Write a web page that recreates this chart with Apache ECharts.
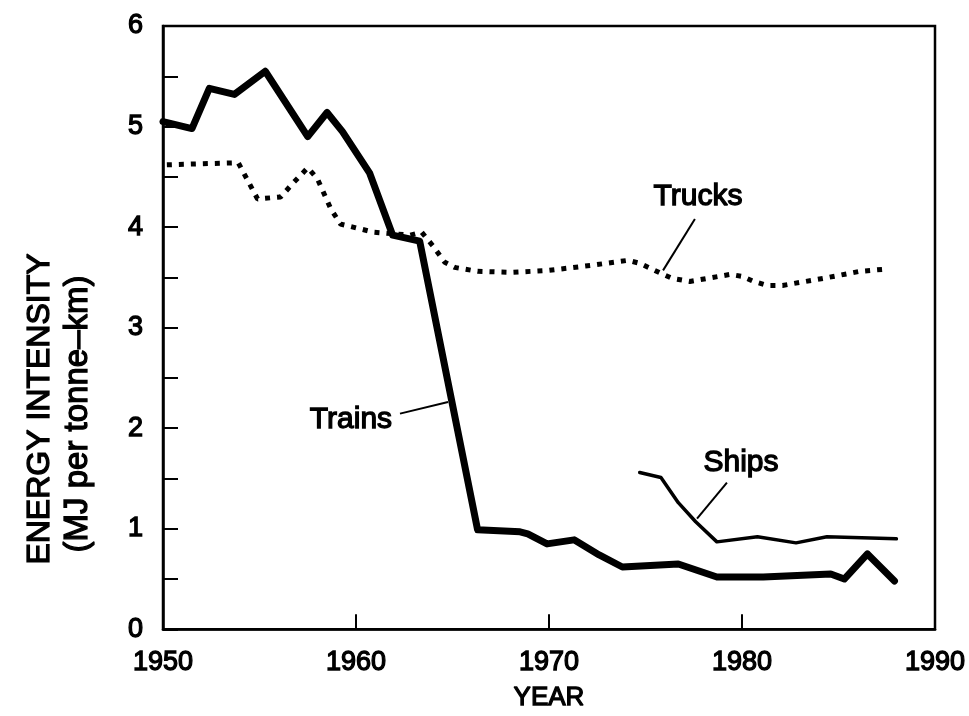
<!DOCTYPE html>
<html>
<head>
<meta charset="utf-8">
<script src="https://cdn.jsdelivr.net/npm/echarts@6/dist/echarts.min.js"></script>
<style>html,body{margin:0;padding:0;background:#fff;}#chart{width:969px;height:716px;}</style>
</head>
<body>
<div id="chart"></div>
<script>
// ---- data ----
const trainsYears  = [1950.0,1951.5,1952.4,1953.7,1955.3,1957.5,1958.5,1959.3,1960.7,1961.9,1963.3,1966.3,1968.5,1968.9,1969.9,1971.3,1972.6,1973.8,1976.7,1978.7,1981.1,1984.6,1985.3,1986.5,1987.9];
const trainsValues = [5.05,4.98,5.38,5.32,5.55,4.90,5.14,4.95,4.54,3.92,3.86,0.99,0.97,0.95,0.85,0.89,0.74,0.62,0.65,0.52,0.52,0.55,0.50,0.75,0.48];

const trucksYears  = [1950.2,1953.9,1954.9,1956.1,1956.7,1957.5,1958.0,1958.7,1959.2,1960.9,1962.8,1963.4,1964.0,1964.6,1965.1,1966.3,1968.1,1970.0,1972.2,1974.1,1974.7,1975.8,1976.4,1977.3,1979.4,1980.0,1980.6,1981.3,1982.1,1984.2,1986.1,1987.3];
const trucksValues = [4.62,4.64,4.28,4.30,4.43,4.59,4.48,4.18,4.03,3.95,3.92,3.95,3.81,3.65,3.60,3.56,3.55,3.57,3.62,3.67,3.64,3.54,3.49,3.46,3.53,3.51,3.46,3.42,3.42,3.49,3.56,3.58];

const shipsYears   = [1974.7,1975.8,1976.7,1977.6,1978.7,1980.8,1982.8,1984.4,1988.0];
const shipsValues  = [1.56,1.51,1.26,1.07,0.87,0.92,0.86,0.92,0.90];

const xTicks = [1950,1960,1970,1980,1990];
const yTicks = [0,1,2,3,4,5,6];

// annotation labels and their pointer lines (data coordinates)
const labelTrucks = {text:'Trucks', at:[1977.72,4.30], from:[1977.56,4.08], to:[1975.91,3.57]};
const labelTrains = {text:'Trains', at:[1959.74,2.085], from:[1962.28,2.145], to:[1964.77,2.26]};
const labelShips  = {text:'Ships',  at:[1979.95,1.66], from:[1979.22,1.46], to:[1977.67,1.10]};

const yTitle1 = 'ENERGY INTENSITY';
const yTitle2 = '(MJ per tonne\u2013km)';
const xTitle  = 'YEAR';

// ---- chart ----
const FONT = "'Liberation Sans', Arial, Helvetica, sans-serif";
const INK = 1.3; // stroke added to glyphs to mimic the heavy scanned type
const zip = (xs, ys) => xs.map((x, i) => [x, ys[i]]);

function annot(a) {
  return {
    markLine: {
      silent: true, symbol: ['none','none'], animation: false,
      lineStyle: {color:'#000', width: 2, type: 'solid'},
      label: {show: false},
      data: [[{coord: a.from}, {coord: a.to}]]
    },
    markPoint: {
      silent: true, animation: false,
      symbol: 'rect', symbolSize: 1,
      itemStyle: {color: 'rgba(0,0,0,0)'},
      label: {show: true, position: 'inside', color: '#000', fontFamily: FONT, fontSize: 30,
        textBorderColor: '#000', textBorderWidth: INK, formatter: a.text},
      data: [{coord: a.at, value: a.text}]
    }
  };
}

const chart = echarts.init(document.getElementById('chart'), null, {renderer: 'canvas'});
chart.setOption({
  animation: false,
  backgroundColor: '#fff',
  grid: {left: 163, right: 34, top: 26, bottom: 83, show: true, borderColor: '#000', borderWidth: 2.5, backgroundColor: 'transparent'},
  xAxis: {
    type: 'value', min: xTicks[0], max: xTicks[xTicks.length-1], interval: 10,
    name: xTitle, nameLocation: 'middle', nameGap: 55,
    nameTextStyle: {fontFamily: FONT, fontSize: 26, color: '#000', textBorderColor: '#000', textBorderWidth: INK},
    axisLine: {show: true, lineStyle: {color: '#000', width: 2.5}},
    axisTick: {show: true, inside: true, length: 15, lineStyle: {color: '#000', width: 2}},
    axisLabel: {margin: 20, fontFamily: FONT, fontSize: 27, color: '#000', textBorderColor: '#000', textBorderWidth: INK,
      formatter: v => xTicks.includes(v) ? String(v) : ''},
    splitLine: {show: false}
  },
  yAxis: {
    type: 'value', min: yTicks[0], max: yTicks[yTicks.length-1], interval: 0.5,
    axisLine: {show: true, lineStyle: {color: '#000', width: 2.5}},
    axisTick: {show: true, inside: true, length: 15, lineStyle: {color: '#000', width: 2}},
    axisLabel: {margin: 20, fontFamily: FONT, fontSize: 27, color: '#000', textBorderColor: '#000', textBorderWidth: INK,
      formatter: v => yTicks.includes(v) ? String(v) : ''},
    splitLine: {show: false}
  },
  graphic: [
    {type: 'text', x: 40, y: 409, rotation: Math.PI/2, silent: true,
     style: {text: yTitle1, x: 0, y: 0, align: 'center', verticalAlign: 'middle', font: "32px " + FONT, fill: '#000', stroke: '#000', lineWidth: INK}},
    {type: 'text', x: 78, y: 414, rotation: Math.PI/2, silent: true,
     style: {text: yTitle2, x: 0, y: 0, align: 'center', verticalAlign: 'middle', font: "33px " + FONT, fill: '#000', stroke: '#000', lineWidth: INK}}
  ],
  series: [
    Object.assign({
      name: 'Trucks', type: 'line', data: zip(trucksYears, trucksValues),
      showSymbol: false, silent: true,
      lineStyle: {color: '#000', width: 5, type: [5, 7], cap: 'butt'}
    }, annot(labelTrucks)),
    Object.assign({
      name: 'Trains', type: 'line', data: zip(trainsYears, trainsValues),
      showSymbol: false, silent: true,
      lineStyle: {color: '#000', width: 7, join: 'round', cap: 'round'}
    }, annot(labelTrains)),
    Object.assign({
      name: 'Ships', type: 'line', data: zip(shipsYears, shipsValues),
      showSymbol: false, silent: true,
      lineStyle: {color: '#000', width: 3.5, join: 'round', cap: 'round'}
    }, annot(labelShips))
  ]
});
</script>
</body>
</html>
